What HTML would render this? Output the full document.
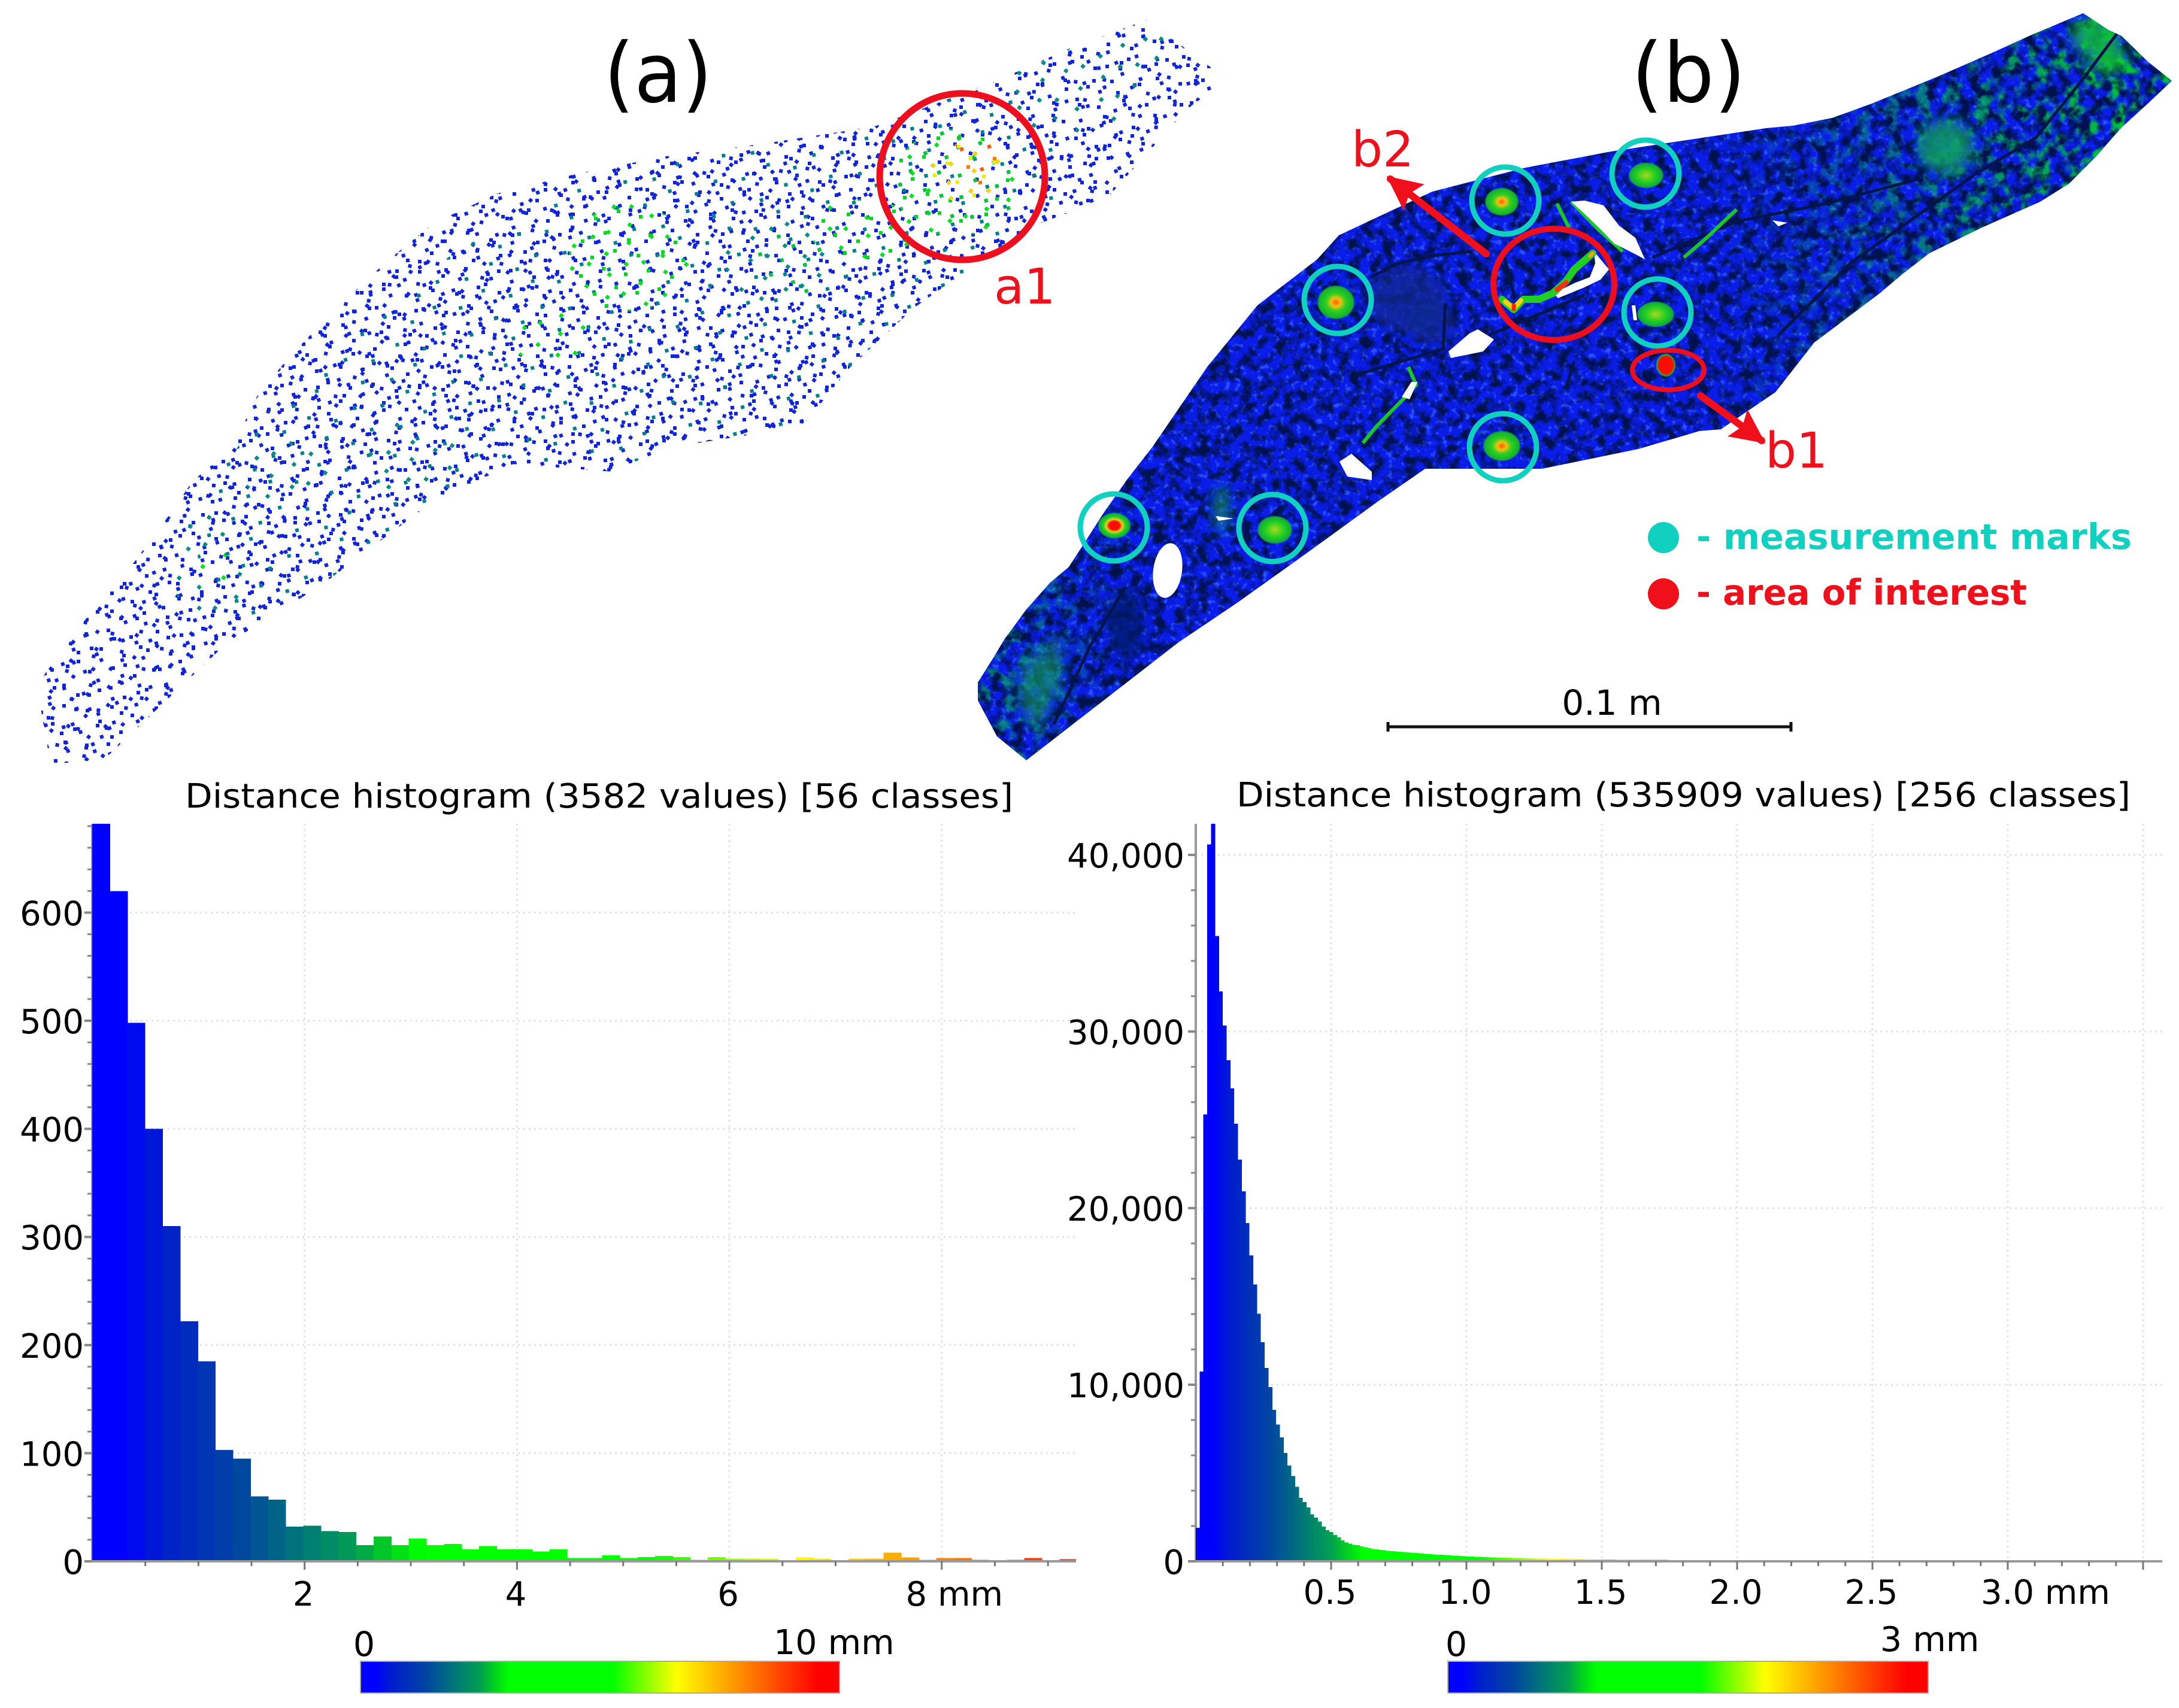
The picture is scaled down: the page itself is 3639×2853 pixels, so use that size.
<!DOCTYPE html>
<html lang="en">
<head>
<meta charset="utf-8">
<title>Distance histograms</title>
<style>
html,body{margin:0;padding:0;background:#fff;}
svg{position:absolute;left:0;top:0;display:block;}
text{font-family:"DejaVu Sans","Liberation Sans",sans-serif;fill:#000;}
</style>
</head>
<body>
<svg id="figure" xmlns="http://www.w3.org/2000/svg" width="3639" height="2853" viewBox="0 0 3639 2853">
<defs>
  <path id="dotsA" d="M12 9h6v6h-6zM50 20h6v6h-6zM88 6h6v6h-6zM127 18h6v6h-6zM163 10h6v6h-6zM205 22h6v6h-6zM28 40h6v6h-6zM66 47h6v6h-6zM104 36h6v6h-6zM143 44h6v6h-6zM184 38h6v6h-6zM218 52h6v6h-6zM8 71h6v6h-6zM47 78h6v6h-6zM85 66h6v6h-6zM122 75h6v6h-6zM160 69h6v6h-6zM199 80h6v6h-6zM30 102h6v6h-6zM70 108h6v6h-6zM106 97h6v6h-6zM141 106h6v6h-6zM178 100h6v6h-6zM216 111h6v6h-6zM14 133h6v6h-6zM52 139h6v6h-6zM90 128h6v6h-6zM128 137h6v6h-6zM166 131h6v6h-6zM204 142h6v6h-6zM34 165h6v6h-6zM72 172h6v6h-6zM110 160h6v6h-6zM147 169h6v6h-6zM186 163h6v6h-6zM222 176h6v6h-6z"/>
  <path id="dotsB" d="M18 14h6v6h-6zM62 28h6v6h-6zM108 12h6v6h-6zM150 30h6v6h-6zM36 58h6v6h-6zM84 66h6v6h-6zM128 52h6v6h-6zM12 96h6v6h-6zM58 104h6v6h-6zM104 92h6v6h-6zM146 108h6v6h-6zM30 138h6v6h-6zM78 146h6v6h-6zM124 132h6v6h-6zM164 152h6v6h-6zM14 178h6v6h-6zM56 190h6v6h-6zM100 172h6v6h-6zM142 192h6v6h-6z"/>
  <pattern id="pA" patternUnits="userSpaceOnUse" width="230" height="190"><use href="#dotsA" fill="#1024dc"/></pattern>
  <pattern id="pB" patternUnits="userSpaceOnUse" width="170" height="210"><use href="#dotsB" fill="#1024dc"/></pattern>
  <pattern id="pC" patternUnits="userSpaceOnUse" width="230" height="190" patternTransform="rotate(37)"><use href="#dotsA" fill="#1024dc"/></pattern>
  <pattern id="pD" patternUnits="userSpaceOnUse" width="170" height="210" patternTransform="rotate(-23)"><use href="#dotsB" fill="#1024dc"/></pattern>
  <pattern id="pE" patternUnits="userSpaceOnUse" width="230" height="190" patternTransform="rotate(71)"><use href="#dotsA" fill="#1024dc"/></pattern>
  <pattern id="pF" patternUnits="userSpaceOnUse" width="170" height="210" patternTransform="rotate(13)"><use href="#dotsB" fill="#1024dc"/></pattern>
  <pattern id="tF" patternUnits="userSpaceOnUse" width="170" height="210" patternTransform="rotate(13)"><use href="#dotsB" fill="#007f90"/></pattern>
  <pattern id="gA" patternUnits="userSpaceOnUse" width="230" height="190"><use href="#dotsA" fill="#00d820"/></pattern>
  <pattern id="gC" patternUnits="userSpaceOnUse" width="230" height="190" patternTransform="rotate(37)"><use href="#dotsA" fill="#00e810"/></pattern>
  <pattern id="gE" patternUnits="userSpaceOnUse" width="230" height="190" patternTransform="rotate(71)"><use href="#dotsA" fill="#00c830"/></pattern>
  <pattern id="tC" patternUnits="userSpaceOnUse" width="230" height="190" patternTransform="rotate(37)"><use href="#dotsA" fill="#008f80"/></pattern>
  <pattern id="yA" patternUnits="userSpaceOnUse" width="230" height="190"><use href="#dotsA" fill="#e8f000"/></pattern>
  <pattern id="yC" patternUnits="userSpaceOnUse" width="230" height="190" patternTransform="rotate(37)"><use href="#dotsA" fill="#ffd000"/></pattern>
  <pattern id="oB" patternUnits="userSpaceOnUse" width="170" height="210"><use href="#dotsB" fill="#ff7a00"/></pattern>
  <pattern id="oD" patternUnits="userSpaceOnUse" width="170" height="210" patternTransform="rotate(-23)"><use href="#dotsB" fill="#ff6000"/></pattern>

  <clipPath id="cloudClip"><polygon transform="scale(1.3393,0.829)" points="63,1540 50,1420 55,1360 100,1260 150,1170 210,1040 240,970 290,900 320,800 360,720 420,620 480,530 540,450 620,390 720,350 830,315 950,290 1090,255 1240,165 1330,100 1430,40 1530,160 1480,220 1380,400 1280,460 1140,620 1060,740 1000,860 840,900 760,950 640,935 540,1010 400,1180 280,1300 130,1530"/></clipPath>
  <clipPath id="surfClip"><polygon points="1714,1270 1665,1230 1633,1170 1633,1140 1660,1097 1678,1067 1714,1018 1754,973 1785,947 1807,913 1843,857 1883,800 1925,746 2016,613 2100,510 2200,433 2236,393 2334,347 2392,320 2548,280 2691,253 2950,214 2994,210 3060,197 3126,173 3236,128 3323,90 3389,60 3479,22 3521,50 3543,60 3587,103 3627,135 3587,173 3543,213 3499,263 3455,307 3407,337 3310,380 3222,423 3178,457 3139,490 3030,572 2965,655 2874,717 2838,720 2736,750 2575,783 2380,783 2302,837 2178,927 2066,1007 1968,1073 1843,1170"/></clipPath>

  <filter id="rock" x="0" y="0" width="100%" height="100%" color-interpolation-filters="sRGB">
    <feTurbulence type="fractalNoise" baseFrequency="0.055" numOctaves="3" seed="7"/>
    <feColorMatrix type="matrix" values="0 0 0 0 0  0 0 0 0 0.07  0 0 0 0 0.30  3.6 0 0 0 -1.5"/>
  </filter>
  <filter id="speck" x="0" y="0" width="100%" height="100%" color-interpolation-filters="sRGB">
    <feTurbulence type="fractalNoise" baseFrequency="0.11" numOctaves="2" seed="21"/>
    <feColorMatrix type="matrix" values="0 0 0 0 0.16  0 0 0 0 0.32  0 0 0 0 1  0 5 0 0 -2.8"/>
  </filter>
  <filter id="mottle" x="0" y="0" width="100%" height="100%" color-interpolation-filters="sRGB">
    <feTurbulence type="fractalNoise" baseFrequency="0.04" numOctaves="2" seed="4"/>
    <feColorMatrix type="matrix" values="0 0 0 0 0  0 0 0 0 0.82  0 0 0 0 0.15  5 0 0 0 -2.3"/>
  </filter>
  <linearGradient id="mottleFade" gradientUnits="userSpaceOnUse" x1="1640" y1="0" x2="3620" y2="0">
    <stop offset="0" stop-color="#999"/><stop offset=".13" stop-color="#000"/><stop offset=".62" stop-color="#000"/><stop offset=".8" stop-color="#888"/><stop offset="1" stop-color="#fff"/>
  </linearGradient>
  <mask id="mottleMask" maskUnits="userSpaceOnUse" x="1600" y="0" width="2039" height="1300"><rect x="1600" y="0" width="2039" height="1300" fill="url(#mottleFade)"/></mask>
  <filter id="soft" x="-30%" y="-30%" width="160%" height="160%"><feGaussianBlur stdDeviation="10"/></filter>

  <radialGradient id="spotYellow"><stop offset="0" stop-color="#ff5a00"/><stop offset=".25" stop-color="#f2c010"/><stop offset=".5" stop-color="#30d020"/><stop offset=".9" stop-color="#12b030"/><stop offset="1" stop-color="#12b030" stop-opacity="0"/></radialGradient>
  <radialGradient id="spotRed"><stop offset="0" stop-color="#ff0a00"/><stop offset=".32" stop-color="#f81000"/><stop offset=".48" stop-color="#e8d020"/><stop offset=".68" stop-color="#20d020"/><stop offset=".92" stop-color="#10a840"/><stop offset="1" stop-color="#10a840" stop-opacity="0"/></radialGradient>
  <radialGradient id="spotGreen"><stop offset="0" stop-color="#a8d820"/><stop offset=".55" stop-color="#20d020"/><stop offset=".9" stop-color="#12a840"/><stop offset="1" stop-color="#12a840" stop-opacity="0"/></radialGradient>
  <radialGradient id="spotSolid"><stop offset="0" stop-color="#ff0a00"/><stop offset=".72" stop-color="#f81000"/><stop offset=".88" stop-color="#20b030"/><stop offset="1" stop-color="#20b030" stop-opacity="0"/></radialGradient>
  <marker id="redHead" markerUnits="userSpaceOnUse" markerWidth="70" markerHeight="70" refX="50" refY="28" orient="auto"><path d="M0 0L58 28L0 56L10 28Z" fill="#f0101c"/></marker>
  <linearGradient id="cbarGradient" x1="0" x2="1" y1="0" y2="0"></linearGradient>
</defs>

<rect x="0" y="0" width="3639" height="2853" fill="#fff"/>

<g id="panel-a">
  <g clip-path="url(#cloudClip)">
    <rect x="0" y="0" width="2100" height="1300" fill="url(#pA)"/>
    <rect x="0" y="0" width="2100" height="1300" fill="url(#pB)"/>
    <rect x="0" y="0" width="2100" height="1300" fill="url(#pC)"/>
    <rect x="0" y="0" width="2100" height="1300" fill="url(#pD)"/>
    <rect x="0" y="0" width="2100" height="1300" fill="url(#pE)"/>
    <rect x="0" y="0" width="2100" height="1300" fill="url(#pF)"/>
    <g>
      <ellipse cx="1050" cy="600" rx="800" ry="300" transform="rotate(-28 1050 600)" fill="url(#tF)"/>
      <ellipse cx="348" cy="951" rx="60" ry="90" fill="url(#tC)"/>
      <ellipse cx="476" cy="789" rx="70" ry="60" fill="url(#tC)"/>
      <ellipse cx="685" cy="766" rx="80" ry="60" fill="url(#tC)"/>
      <ellipse cx="1780" cy="150" rx="120" ry="70" fill="url(#tC)"/>
      <ellipse cx="1910" cy="70" rx="50" ry="50" fill="url(#tC)"/>
      <ellipse cx="1300" cy="440" rx="90" ry="70" fill="url(#tC)"/>
    </g>
    <g>
      <ellipse cx="1050" cy="430" rx="100" ry="90" fill="url(#gC)"/>
      <ellipse cx="1050" cy="430" rx="100" ry="90" fill="url(#gA)"/>
      <ellipse cx="916" cy="557" rx="70" ry="50" fill="url(#gC)"/>
      <ellipse cx="1320" cy="440" rx="60" ry="60" fill="url(#gE)"/>
      <ellipse cx="1440" cy="383" rx="90" ry="50" fill="url(#gC)"/>
      <ellipse cx="1440" cy="383" rx="90" ry="50" fill="url(#gA)"/>
      <ellipse cx="1595" cy="305" rx="105" ry="90" fill="url(#gC)"/>
      <ellipse cx="1595" cy="305" rx="105" ry="90" fill="url(#gA)"/>
      <ellipse cx="1595" cy="305" rx="105" ry="90" fill="url(#gE)"/>
      <ellipse cx="360" cy="960" rx="30" ry="40" fill="url(#gC)"/>
    </g>
    <g>
      <ellipse cx="1615" cy="285" rx="60" ry="55" fill="url(#yC)"/>
      <ellipse cx="1615" cy="285" rx="60" ry="55" fill="url(#yA)"/>
      <ellipse cx="1625" cy="275" rx="45" ry="45" fill="url(#oB)"/>
      <ellipse cx="1625" cy="275" rx="45" ry="45" fill="url(#oD)"/>
    </g>
  </g>
  <text x="1099" y="170" font-size="138" text-anchor="middle" textLength="181" lengthAdjust="spacingAndGlyphs">(a)</text>
  <ellipse cx="1607" cy="295" rx="138" ry="139" fill="none" stroke="#ee0f1e" stroke-width="11"/>
  <text x="1660" y="507" font-size="82" style="fill:#f0101c">a1</text>
</g>

<g id="panel-b">
  <g clip-path="url(#surfClip)">
    <rect x="1600" y="0" width="2039" height="1300" fill="#0a1ce8"/>
    <rect x="1600" y="0" width="2039" height="1300" filter="url(#speck)"/>
    <g mask="url(#mottleMask)"><rect x="1600" y="0" width="2039" height="1300" filter="url(#mottle)"/></g>
    <rect x="1600" y="0" width="2039" height="1300" filter="url(#rock)"/>
    <g filter="url(#soft)" fill="#10a068" fill-opacity=".8">
      <ellipse cx="3250" cy="245" rx="45" ry="45"/>
      <ellipse cx="3500" cy="60" rx="40" ry="30" fill="#10c040"/>
      <ellipse cx="3520" cy="100" rx="32" ry="22" fill="#10d030"/>
      <ellipse cx="1730" cy="1150" rx="28" ry="60" fill-opacity=".6"/>
      <ellipse cx="1760" cy="1110" rx="16" ry="50" fill-opacity=".5"/>
      <ellipse cx="2040" cy="850" rx="12" ry="40" fill-opacity=".7"/>
    </g>
    <g filter="url(#soft)" fill="#0a2a90" fill-opacity=".75">
      <ellipse cx="2350" cy="500" rx="65" ry="55"/>
      <ellipse cx="2390" cy="540" rx="40" ry="35"/>
      <ellipse cx="1880" cy="1040" rx="30" ry="60" fill="#06186a"/>
    </g>
    <g fill="none" stroke="#03154a" stroke-width="5">
      <path d="M2970 560L3090 440L3300 290L3400 230L3480 130L3540 50"/>
      <path d="M2289 463L2334 440L2392 427L2459 420"/>
      <path d="M2414 507L2410 583L2262 627"/>
      <path d="M2486 560L2646 493"/>
      <path d="M2760 430L2900 370L3050 340L3200 300"/>
      <path d="M2510 420L2530 500"/>
      <path d="M1760 1210L1820 1080L1880 980"/>
      <path d="M2629 603L2615 650"/>
    </g>
    <g fill="none" stroke="#18c828" stroke-width="6">
      <path d="M2352 613L2365 643L2343 667L2298 713L2276 740"/>
      <path d="M2812 430L2847 400L2900 350"/>
      <path d="M2624 337L2669 383L2710 420"/>
      <path d="M2600 340L2620 380"/>
    </g>
    <g fill="#fff">
      <polygon points="2624,337 2646,335 2678,343 2704,377 2731,397 2747,433 2722,420 2696,407 2673,383 2646,357"/>
      <polygon points="2595,490 2629,473 2655,463 2664,440 2662,420 2687,450 2673,467 2646,480 2602,498"/>
      <polygon points="2419,587 2454,557 2468,550 2495,567 2477,587 2423,598"/>
      <polygon points="2237,771 2257,758 2291,788 2291,802 2250,796"/>
      <polygon points="2341,663 2357,638 2367,638 2354,667"/>
      <polygon points="2725,510 2731,510 2734,535 2728,535"/>
      <ellipse cx="1950" cy="953" rx="24" ry="46" transform="rotate(8 1950 953)"/>
      <polygon points="2030,862 2060,866 2035,870"/>
      <polygon points="2960,368 2985,372 2970,378"/>
    </g>
    <g fill="none" stroke-linecap="round" stroke-linejoin="round">
      <path d="M2508 500L2528 517L2544 500L2570 500L2593 490L2615 470L2629 450L2660 423" stroke="#20d020" stroke-width="12"/>
      <path d="M2514 504L2528 515L2540 502" stroke="#f5d010" stroke-width="8"/>
      <path d="M2528 510L2528 516" stroke="#ff2000" stroke-width="7"/>
      <path d="M2600 484L2616 472" stroke="#ff3010" stroke-width="8"/>
      <path d="M2655 428L2660 423" stroke="#f0a010" stroke-width="6"/>
    </g>
    <g>
      <ellipse cx="2508" cy="337" rx="29" ry="24" fill="url(#spotYellow)"/>
      <ellipse cx="2749" cy="293" rx="30" ry="22" fill="url(#spotGreen)"/>
      <ellipse cx="2231" cy="505" rx="32" ry="29" fill="url(#spotYellow)"/>
      <ellipse cx="2765" cy="525" rx="32" ry="22" fill="url(#spotGreen)"/>
      <ellipse cx="2508" cy="745" rx="32" ry="26" fill="url(#spotYellow)"/>
      <ellipse cx="1861" cy="878" rx="28" ry="22" fill="url(#spotRed)"/>
      <ellipse cx="2129" cy="885" rx="30" ry="24" fill="url(#spotGreen)"/>
      <ellipse cx="2782" cy="610" rx="17" ry="20" fill="url(#spotSolid)"/>
    </g>
  </g>
  <text x="2820" y="170" font-size="138" text-anchor="middle" textLength="191" lengthAdjust="spacingAndGlyphs">(b)</text>
  <g fill="none" stroke="#10d0c0" stroke-width="9">
    <circle cx="2514" cy="335" r="56"/>
    <circle cx="2748" cy="290" r="56"/>
    <circle cx="2234" cy="501" r="56"/>
    <circle cx="2768" cy="522" r="56"/>
    <circle cx="2510" cy="747" r="56"/>
    <circle cx="1860" cy="881" r="56"/>
    <circle cx="2125" cy="882" r="56"/>
  </g>
  <ellipse cx="2595" cy="475" rx="101" ry="93" fill="none" stroke="#ee0f1e" stroke-width="10"/>
  <ellipse cx="2786" cy="618" rx="60" ry="33" fill="none" stroke="#ee0f1e" stroke-width="8"/>
  <line x1="2482" y1="424" x2="2322" y2="299" stroke="#f0101c" stroke-width="12" stroke-linecap="round" marker-end="url(#redHead)"/>
  <line x1="2840" y1="661" x2="2942" y2="736" stroke="#f0101c" stroke-width="12" stroke-linecap="round" marker-end="url(#redHead)"/>
  <text x="2257" y="278" font-size="82" style="fill:#f0101c">b2</text>
  <text x="2948" y="781" font-size="82" style="fill:#f0101c">b1</text>
  <circle cx="2778" cy="898" r="26" fill="#10d0c0"/>
  <text x="2833" y="917" font-size="59" font-weight="bold" textLength="727" lengthAdjust="spacingAndGlyphs" style="fill:#10d0c0">- measurement marks</text>
  <circle cx="2778" cy="992" r="26" fill="#f0101c"/>
  <text x="2833" y="1010" font-size="59" font-weight="bold" textLength="552" lengthAdjust="spacingAndGlyphs" style="fill:#f0101c">- area of interest</text>
  <g stroke="#111" stroke-width="5" fill="none">
    <path d="M2318 1214H2991M2318 1206V1222M2991 1206V1222"/>
  </g>
  <text x="2692" y="1194" font-size="58" text-anchor="middle">0.1 m</text>
</g>

<text x="309" y="1349" font-size="56" textLength="1383" lengthAdjust="spacingAndGlyphs">Distance histogram (3582 values) [56 classes]</text>
<text x="2065" y="1347" font-size="56" textLength="1493" lengthAdjust="spacingAndGlyphs">Distance histogram (535909 values) [256 classes]</text>

<g id="left-chart"></g>
<g id="right-chart"></g>

<g id="left-colorbar">
  <rect x="602" y="2775" width="800" height="53" fill="url(#cbarGradient)" stroke="#aaa" stroke-width="2"/>
  <text x="608" y="2766" font-size="57" text-anchor="middle">0</text>
  <text x="1292" y="2763" font-size="57">10 mm</text>
</g>
<g id="right-colorbar">
  <rect x="2418" y="2775" width="802" height="53" fill="url(#cbarGradient)" stroke="#aaa" stroke-width="2"/>
  <text x="2432" y="2766" font-size="57" text-anchor="middle">0</text>
  <text x="3140" y="2758" font-size="57">3 mm</text>
</g>

<script>
// Left histogram data (56 classes)
const leftCounts = [690,620,498,400,310,222,185,103,95,60,57,32,33,28,27,15,23,15,21,15,16,11,14,11,11,9,11,3,3,5.5,3,4,5,4,1.5,4,2.5,2.5,2.5,0,3.5,2.5,0,2.5,2.5,8,3.5,1.5,3,3,1.5,0,1.5,3,0,2];
const leftYTicks = [0,100,200,300,400,500,600];
const leftYLabels = ['0','100','200','300','400','500','600'];
const leftXTicks = [2,4,6,8];
const leftXLabels = ['2','4','6','8 mm'];

// Right histogram data (256 classes)
const rightCounts = [1900,10750,25300,40600,42500,35400,32270,30340,28370,26780,24780,22750,20950,19160,17320,15680,14010,12400,10950,9860,8570,7750,7020,6130,5420,4830,4220,3590,3360,3050,2660,2480,2250,1970,1770,1660,1490,1350,1190,1070,1000,940,910,850,
790,740,700,670,640,620,600,575,560,540,525,505,490,470,455,440,425,410,395,380,365,350,340,325,315,300,290,
275,265,255,250,240,230,225,215,210,205,200,195,190,190,185,
175,170,165,160,155,150,145,140,135,135,130,125,125,120,115,
115,110,110,105,105,100,100,95,95,90,90,90,85,85,85,85,85,80,80,85,85,
80,80,75,75,75,70,70,70,70,65,65,65,60,60,60,60,55,55,55,60,60,
50,50,50,45,45,45,45,40,40,40,40,40,35,35,35,
35,30,30,30,30,30,30,28,28,25,25,25,25,25,
22,22,20,20,20,18,18,18,16,16,16,15,15,15,14,14,12,12,12,12,
12,10,10,10,9,9,9,8,8,8,8,7,7,7,7,6,6,6,6,6,
5,5,5,5,5,5,4,4,4,4,4,4,3,3,3,3,3,3,3,3,
2,2,2,2,2,2,2,2,2,2,2,2,1,1,1,1,1,1,1,1,1,1,0,0];
const rightYTicks = [0,10000,20000,30000,40000];
const rightYLabels = ['0','10,000','20,000','30,000','40,000'];
const rightXTicks = [0.5,1,1.5,2,2.5,3,3.5];
const rightXLabels = ['0.5','1.0','1.5','2.0','2.5','3.0 mm',''];

// Colour ramp (fraction, r, g, b)
const rampFractions = [0,0.03,0.066,0.138,0.21,0.25,0.28,0.31,0.525,0.66,0.955,1];
const rampColors = [[0,0,255],[0,0,255],[0,30,205],[0,70,160],[0,130,110],[0,160,80],[0,210,30],[0,255,0],[0,255,0],[255,255,0],[255,0,0],[255,0,0]];

const NS = 'http://www.w3.org/2000/svg';

function rampColor(f) {
  const t = Math.max(0, Math.min(1, f));
  let k = 0;
  while (k < rampFractions.length - 2 && t > rampFractions[k + 1]) k++;
  const s = (t - rampFractions[k]) / (rampFractions[k + 1] - rampFractions[k]);
  const a = rampColors[k], b = rampColors[k + 1];
  const c = [0, 1, 2].map(function (i) { return Math.round(a[i] + (b[i] - a[i]) * s); });
  return 'rgb(' + c.join(',') + ')';
}

function make(parent, tag, attrs) {
  const n = document.createElementNS(NS, tag);
  Object.keys(attrs).forEach(function (key) { n.setAttribute(key, attrs[key]); });
  parent.appendChild(n);
  return n;
}

const gradient = document.getElementById('cbarGradient');
rampFractions.forEach(function (f, i) {
  const c = rampColors[i];
  const stop = make(gradient, 'stop', { offset: f, 'stop-color': 'rgb(' + c.join(',') + ')' });
  
  
});

function drawHistogram(root, prefix, cfg) {
  const xPx = function (mm) { return cfg.x0 + mm * cfg.pxPerMm; };
  const yPx = function (v) { return cfg.y0 - v * cfg.pxPerCount; };

  // grid
  cfg.yTicks.forEach(function (v) {
    if (v === 0) return;
    const el = make(root, 'line', { x1: cfg.x0, x2: cfg.right, y1: yPx(v), y2: yPx(v), stroke: '#e2e2e2', 'stroke-width': 3, 'stroke-dasharray': '3 6' });
    
    
  });
  cfg.xTicks.forEach(function (v) {
    const el = make(root, 'line', { x1: xPx(v), x2: xPx(v), y1: cfg.top, y2: cfg.y0, stroke: '#e2e2e2', 'stroke-width': 3, 'stroke-dasharray': '3 6' });
    
    
  });

  // axis lines
  const yAxis = make(root, 'line', { x1: cfg.x0, x2: cfg.x0, y1: cfg.top, y2: cfg.y0, stroke: '#999', 'stroke-width': 4 });
  
  

  // bars
  const clipId = prefix + '-plot-clip';
  const clip = make(root, 'clipPath', { id: clipId });
  make(clip, 'rect', { x: cfg.x0, y: cfg.top, width: cfg.right - cfg.x0, height: cfg.y0 - cfg.top + 1 });
  const barGroup = make(root, 'g', { 'clip-path': 'url(#' + clipId + ')', 'shape-rendering': 'crispEdges' });
  
  
  cfg.counts.forEach(function (v, i) {
    if (v <= 0) return;
    const center = (i + 0.5) * cfg.binMm;
    const left = xPx(i * cfg.binMm);
    const right = xPx((i + 1) * cfg.binMm);
    const top = Math.max(yPx(v), cfg.top - 2);
    const bar = make(barGroup, 'rect', { x: left, y: top, width: right - left + 0.6, height: cfg.y0 - top, fill: rampColor(center / cfg.colorMax) });
    
    
  });

  const xAxis = make(root, 'line', { x1: cfg.x0, x2: cfg.right, y1: cfg.y0, y2: cfg.y0, stroke: '#999', 'stroke-width': 4 });
  
  

  // y ticks
  const maxCount = (cfg.y0 - cfg.top) / cfg.pxPerCount;
  for (let k = 0; k * cfg.yMinor <= maxCount; k++) {
    const v = k * cfg.yMinor;
    const isMajor = cfg.yTicks.indexOf(v) >= 0;
    const tick = make(root, 'line', { x1: cfg.x0 - (isMajor ? 13 : 8), x2: cfg.x0, y1: yPx(v), y2: yPx(v), stroke: '#888', 'stroke-width': isMajor ? 4 : 3 });
    
    
  }
  cfg.yTicks.forEach(function (v, i) {
    const t = make(root, 'text', { x: cfg.yLabelX, y: yPx(v) + 21, 'font-size': cfg.fontSize, 'text-anchor': 'end' });
    t.textContent = cfg.yLabels[i];
    
    
  });

  // x ticks
  const maxMm = (cfg.right - cfg.x0) / cfg.pxPerMm;
  for (let k = 1; k * cfg.xMinor <= maxMm; k++) {
    const v = k * cfg.xMinor;
    const isMajor = cfg.xTicks.some(function (m) { return Math.abs(m - v) < 1e-6; });
    const tick = make(root, 'line', { x1: xPx(v), x2: xPx(v), y1: cfg.y0, y2: cfg.y0 + (isMajor ? 14 : 8), stroke: '#777', 'stroke-width': 3 });
    
    
  }
  cfg.xTicks.forEach(function (v, i) {
    const label = cfg.xLabels[i];
    if (!label) return;
    const offset = label.indexOf('mm') >= 0 ? cfg.unitOffset : -2;
    const t = make(root, 'text', { x: xPx(v) + offset, y: cfg.xLabelY, 'font-size': cfg.fontSize, 'text-anchor': 'middle' });
    t.textContent = label;
    
    
  });
}

drawHistogram(document.getElementById('left-chart'), 'left', {
  counts: leftCounts, yTicks: leftYTicks, yLabels: leftYLabels, xTicks: leftXTicks, xLabels: leftXLabels,
  x0: 154, pxPerMm: 177.35, binMm: 0.1656, right: 1797, y0: 2608, top: 1376, pxPerCount: 1.806,
  colorMax: 10, yMinor: 20, xMinor: 0.5, yLabelX: 140, xLabelY: 2682, fontSize: 56, unitOffset: 21
});
drawHistogram(document.getElementById('right-chart'), 'right', {
  counts: rightCounts, yTicks: rightYTicks, yLabels: rightYLabels, xTicks: rightXTicks, xLabels: rightXLabels,
  x0: 1997, pxPerMm: 452, binMm: 0.01407, right: 3611, y0: 2608, top: 1376, pxPerCount: 0.0295,
  colorMax: 2, yMinor: 2000, xMinor: 0.1, yLabelX: 1978, xLabelY: 2679, fontSize: 56, unitOffset: 63
});
</script>
</svg>
</body>
</html>
